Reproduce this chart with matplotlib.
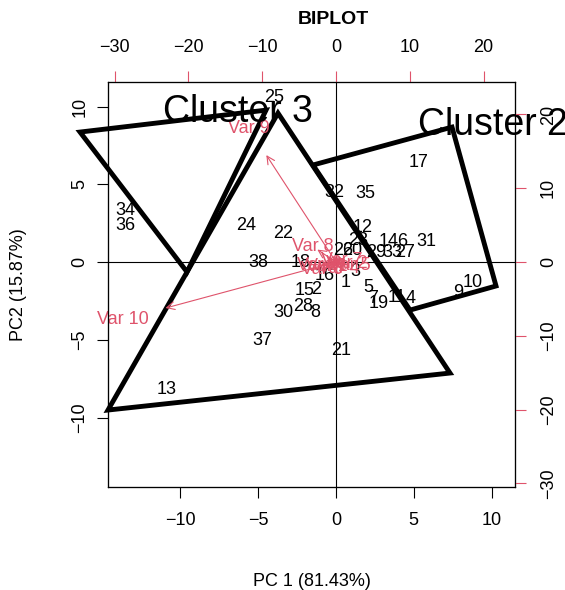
import matplotlib.pyplot as plt
import numpy as np

plt.rcParams['font.family'] = ['Liberation Sans', 'DejaVu Sans']

pink = '#DF536B'

# scores (PC1, PC2) of the 38 observations
obs = [str(i) for i in range(1, 39)]
pc1 = [0.64, -1.29, 1.22, 4.82, 2.06, 4.24, 2.38, -1.35, 7.85, 8.81,
       3.92, 1.74, -10.87, 3.41, -1.99, -0.71, 5.34, -2.25, 2.77, 1.03,
       0.32, -3.41, 1.41, -5.79, -3.99, 0.45, 4.44, -2.12, 2.57, -3.41,
       5.79, -0.13, 3.60, -13.57, 1.86, -13.57, -4.76, -5.02]
pc2 = [-1.29, -1.74, -0.64, -2.32, -1.61, 1.29, -2.32, -3.22, -1.93, -1.29,
       -2.25, 2.19, -8.17, 1.29, -1.86, -0.84, 6.43, 0.00, -2.64, 0.77,
       -5.72, 1.86, 1.41, 2.38, 10.61, 0.77, 0.64, -2.89, 0.64, -3.22,
       1.35, 4.50, 0.64, 3.34, 4.44, 2.32, -5.02, 0.00]

# variable loadings (label positions, in PC units)
var_names = ['Var 1', 'Var 2', 'Var 3', 'Var 4', 'Var 5', 'Var 6', 'Var 7',
             'Var 8', 'Var 9', 'Var 10']
var_x = [-0.6, 0.7, -1.2, 0.2, 0.9, -0.9, 0.4, -1.5, -5.6, -13.7]
var_y = [-0.3, -0.1, -0.2, -0.4, -0.2, -0.5, 0.1, 1.0, 8.6, -3.7]

# cluster hulls
hull1_x = [-14.66, -3.73, 7.33]
hull1_y = [-9.52, 9.58, -7.14]
hull2_x = [-1.48, 7.46, 10.29, 4.76]
hull2_y = [6.24, 8.68, -1.54, -3.09]
hull3_x = [-16.46, -4.50, -9.58]
hull3_y = [8.36, 9.77, -0.64]
clus_names = ['Cluster 3', 'Cluster 2']
clus_x = [-6.3, 10.1]
clus_y = [9.65, 8.81]

ratio = 2.107
xlim = (-14.66, 11.51)
ylim = (-14.47, 11.58)

fig = plt.figure(figsize=(5.65, 5.9), dpi=100)
ax = fig.add_axes([108 / 565, 1 - 487 / 590, 407 / 565, 405 / 590])
ax.set_xlim(xlim)
ax.set_ylim(ylim)

ax.axhline(0, color='black', lw=0.8)
ax.axvline(0, color='black', lw=0.8)

for s, x, y in zip(obs, pc1, pc2):
    ax.text(x, y, s, fontsize=13, ha='center', va='center')

for s, x, y in zip(var_names, var_x, var_y):
    ax.annotate('', xy=(0.8 * x, 0.8 * y), xytext=(0, 0),
                arrowprops=dict(arrowstyle='->', color=pink, lw=0.8,
                                mutation_scale=14, shrinkA=0, shrinkB=0))
    ax.text(x, y, s, fontsize=13, ha='center', va='center', color=pink)

for hx, hy in [(hull1_x, hull1_y), (hull2_x, hull2_y), (hull3_x, hull3_y)]:
    ax.fill(hx, hy, facecolor='none', edgecolor='black', lw=3.5,
            joinstyle='miter', clip_on=False)

for s, x, y in zip(clus_names, clus_x, clus_y):
    ax.text(x, y, s, fontsize=27, ha='center', va='center', clip_on=False)

ax.set_xticks([-10, -5, 0, 5, 10])
ax.set_yticks([-10, -5, 0, 5, 10])
ax.tick_params(labelsize=13, length=8, width=0.8)
ax.tick_params(axis='x', pad=10)
ax.tick_params(axis='y', pad=6)
for lab in ax.get_yticklabels():
    lab.set_rotation(90)
    lab.set_va('center')
ax.set_xlabel('PC 1 (81.43%)', fontsize=13, labelpad=32)
ax.set_ylabel('PC2 (15.87%)', fontsize=13, labelpad=32)

# secondary axes for loadings
axt = ax.twiny()
axt.set_xlim(xlim[0] * ratio, xlim[1] * ratio)
axt.set_xticks([-30, -20, -10, 0, 10, 20])
axt.tick_params(labelsize=13, length=8, width=0.8, color=pink, pad=11)
axr = ax.twinx()
axr.set_ylim(ylim[0] * ratio, ylim[1] * ratio)
axr.set_yticks([-30, -20, -10, 0, 10, 20])
axr.tick_params(labelsize=13, length=8, width=0.8, color=pink, pad=10)
for lab in axr.get_yticklabels():
    lab.set_rotation(90)
    lab.set_va('center')
for a in (ax, axt, axr):
    for sp in a.spines.values():
        sp.set_linewidth(0.8)

fig.text(0.59, 1 - 19 / 590, 'BIPLOT', fontsize=14, fontweight='bold',
         ha='center', va='center')

fig.savefig('out.png', dpi=100)
